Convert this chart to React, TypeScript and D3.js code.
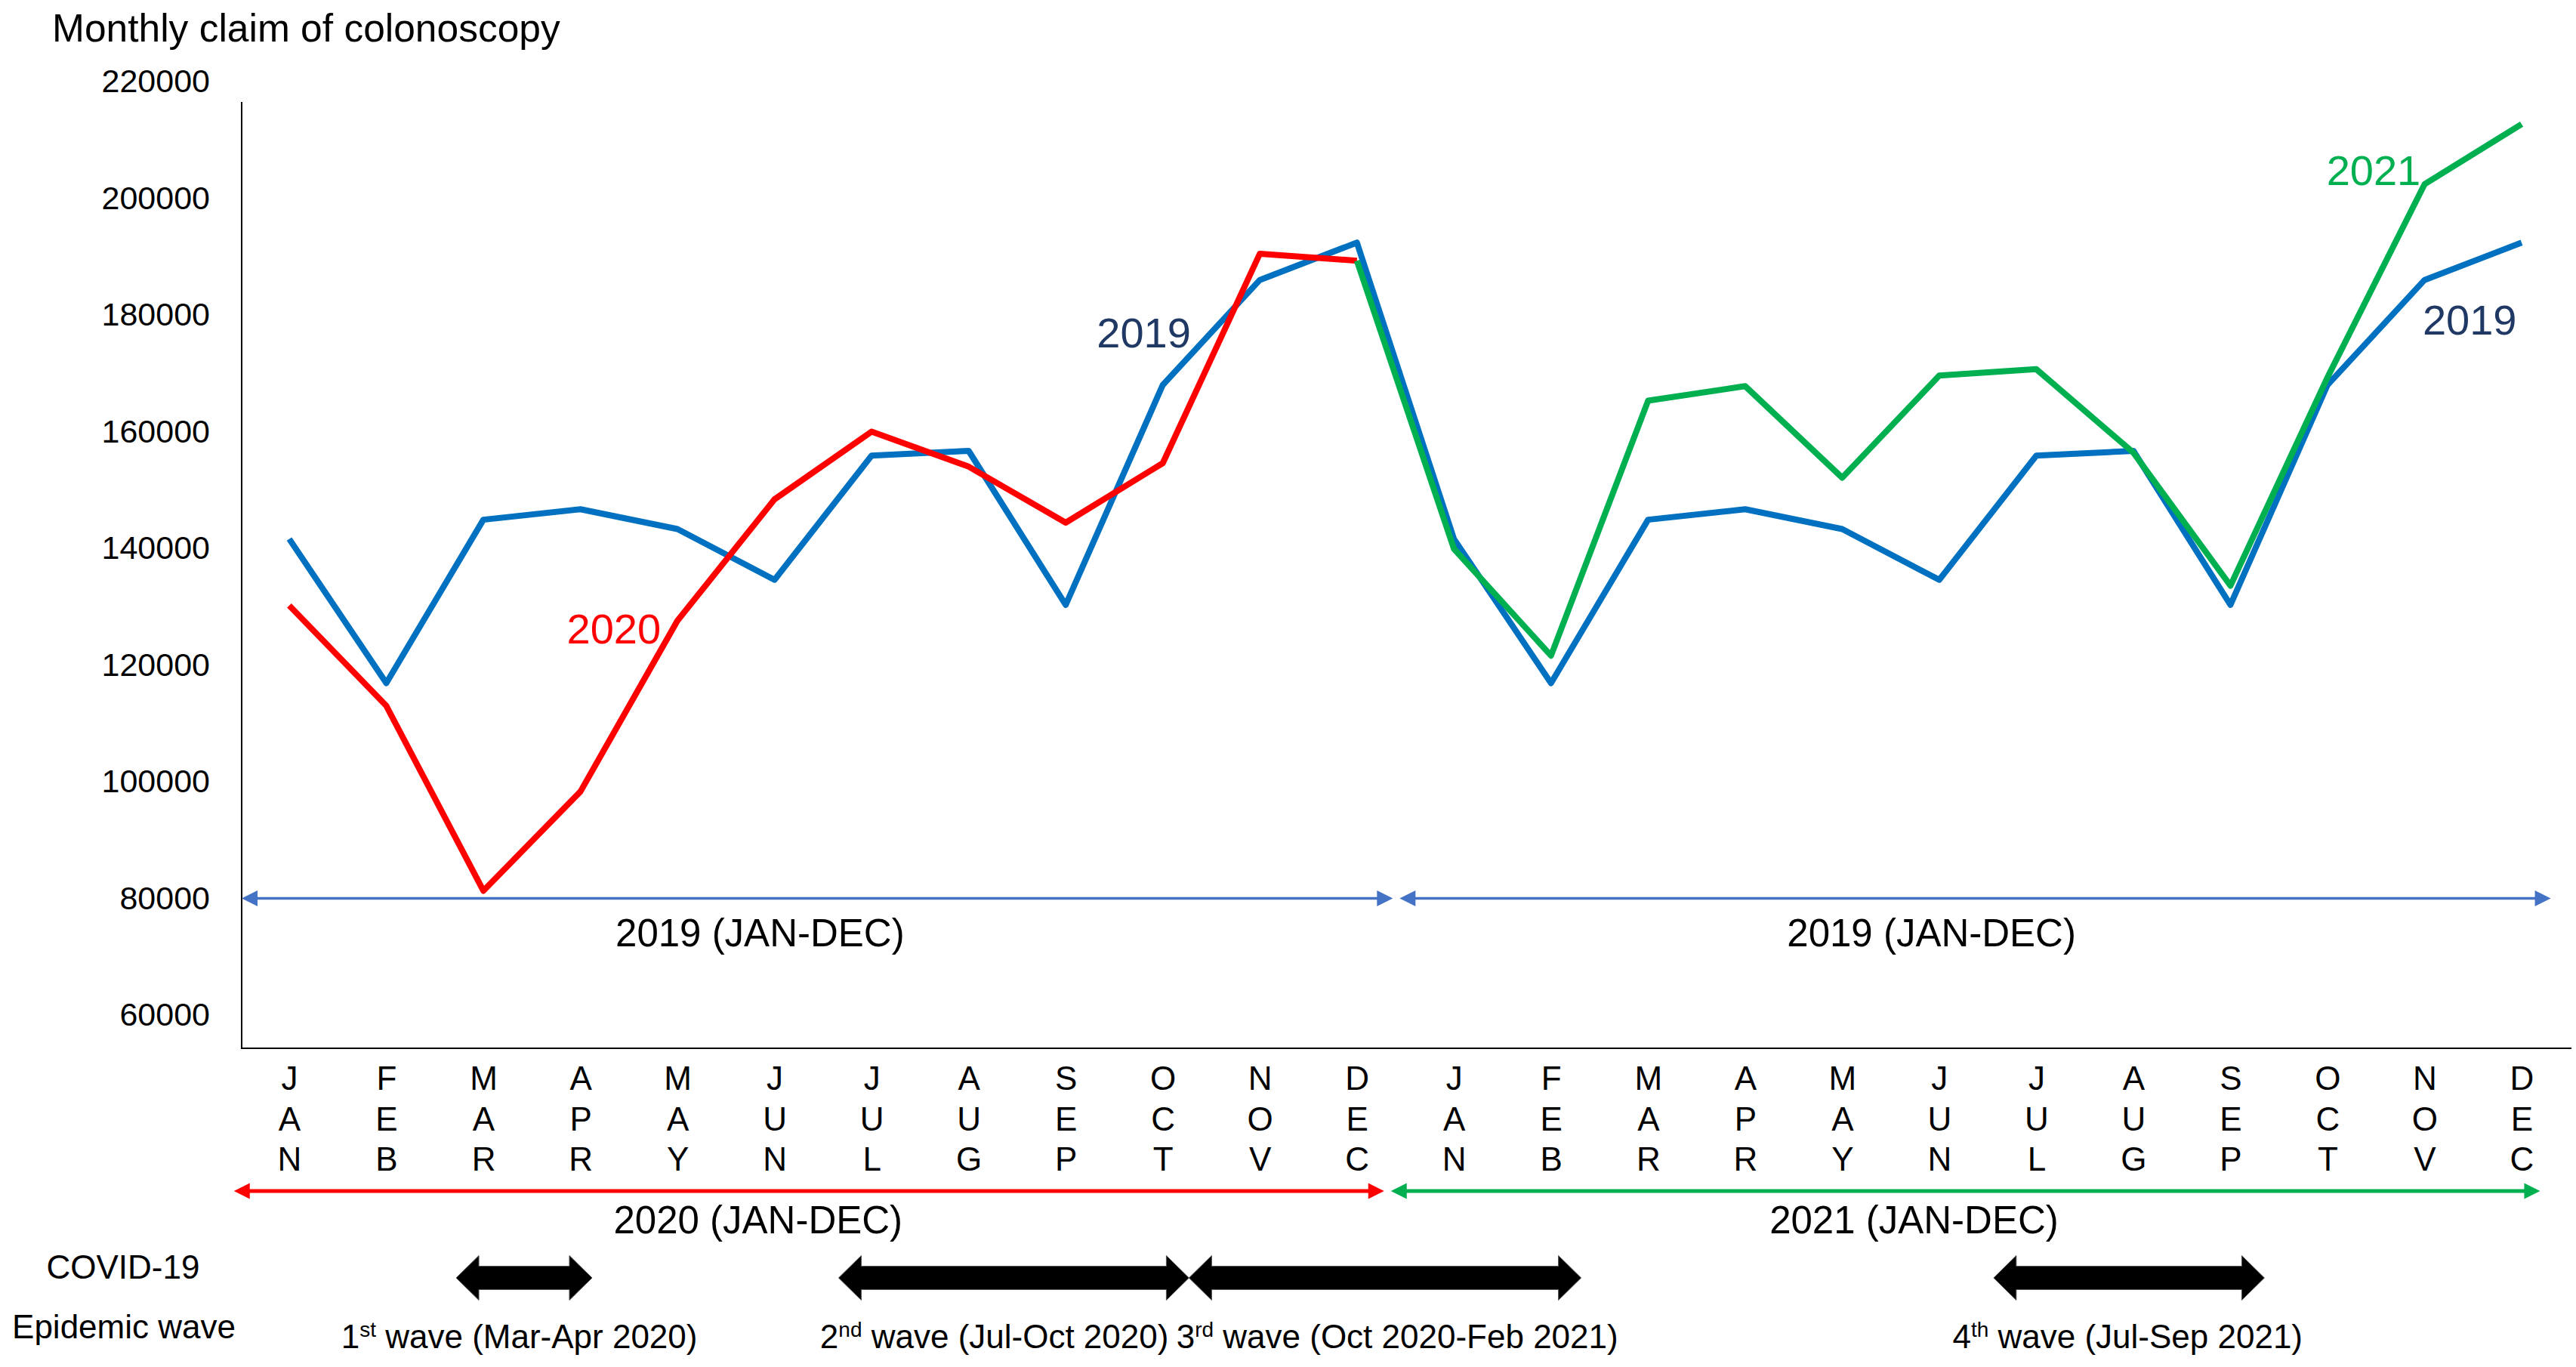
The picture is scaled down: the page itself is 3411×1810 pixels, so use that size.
import React, { useRef, useEffect } from "react";
import * as d3 from "d3";

// month categories (24 months, two years)
const monthNames = ["JAN", "FEB", "MAR", "APR", "MAY", "JUN", "JUL", "AUG", "SEP", "OCT", "NOV", "DEC"];
const months = [...monthNames, ...monthNames];

// monthly claims
const claims2019 = [141600, 116900, 144900, 146700, 143300, 134600, 155900, 156700, 130300, 168000, 186000, 192400];
const claims2020 = [130200, 113000, 81300, 98300, 127600, 148400, 160000, 154000, 144400, 154600, 190500, 189300];
const claims2021 = [139900, 121600, 165300, 167800, 152100, 169600, 170700, 156400, 133600, 169300, 202400, 212700];

const yTicks = [60000, 80000, 100000, 120000, 140000, 160000, 180000, 200000, 220000];

// in-plot series labels (month position, value at baseline)
const seriesLabels = [
  { text: "2019", month: 8.32, value: 174400, color: "#1F3864" },
  { text: "2020", month: 2.86, value: 123700, color: "#FF0000" },
  { text: "2021", month: 20.99, value: 202300, color: "#00B050" },
  { text: "2019", month: 21.98, value: 176600, color: "#1F3864" },
];

// period arrows under the lines / axis
const periodSpans = [
  { label: "2019 (JAN-DEC)", from: -0.49, to: 11.37, labelAt: 4.85, row: "ref", color: "#4472C4" },
  { label: "2019 (JAN-DEC)", from: 11.44, to: 23.3, labelAt: 16.92, row: "ref", color: "#4472C4" },
  { label: "2020 (JAN-DEC)", from: -0.57, to: 11.28, labelAt: 4.83, row: "year", color: "#FF0000" },
  { label: "2021 (JAN-DEC)", from: 11.35, to: 23.19, labelAt: 16.74, row: "year", color: "#00B050" },
];

// COVID-19 epidemic waves
const waves = [
  { num: "1", sup: "st", rest: " wave (Mar-Apr 2020)", from: 1.72, to: 3.12, labelAt: 2.37, anchor: "middle" },
  { num: "2", sup: "nd", rest: " wave (Jul-Oct 2020)", from: 5.66, to: 9.27, labelAt: 9.06, anchor: "end" },
  { num: "3", sup: "rd", rest: " wave (Oct 2020-Feb 2021)", from: 9.27, to: 13.31, labelAt: 9.14, anchor: "start" },
  { num: "4", sup: "th", rest: " wave (Jul-Sep 2021)", from: 17.56, to: 20.35, labelAt: 18.94, anchor: "middle" },
];

const FONT = "'Liberation Sans', Arial, sans-serif";

export default function App() {
  const svgRef = useRef(null);
  const width = 3411;
  const height = 1810;
  const plotLeft = 320;
  const plotRight = 3405;
  const plotTop = 135;
  const plotBottom = 1388;

  useEffect(() => {
    const x = d3.scaleLinear().domain([0, 23]).range([383, 3339]);
    const y = d3.scaleLinear().domain([60000, 220000]).range([1344, 108]);

    const svg = d3.select(svgRef.current);
    svg.selectAll("*").remove();

    // title
    svg.append("text")
      .attr("x", 69)
      .attr("y", 55)
      .attr("font-family", FONT)
      .attr("font-size", 51.5)
      .text("Monthly claim of colonoscopy");

    // y axis labels
    svg.append("g")
      .attr("transform", `translate(${plotLeft},0)`)
      .call(d3.axisLeft(y).tickValues(yTicks).tickSize(0).tickPadding(42).tickFormat(d3.format("d")))
      .call(g => g.select(".domain").remove())
      .call(g => g.selectAll("text").attr("font-family", FONT).attr("font-size", 43).attr("fill", "#000"));

    // x axis month letters, stacked
    svg.append("g")
      .attr("transform", `translate(0,${plotBottom})`)
      .call(d3.axisBottom(x).tickValues(d3.range(24)).tickSize(0).tickFormat(i => months[i]))
      .call(g => g.select(".domain").remove())
      .call(g => g.selectAll(".tick text").each(function (d) {
        const t = d3.select(this);
        t.text(null).attr("dy", null).attr("y", 0)
          .attr("font-family", FONT).attr("font-size", 44).attr("fill", "#000");
        months[d].split("").forEach((ch, k) => {
          t.append("tspan").attr("x", 0).attr("y", 55 + k * 53.5).text(ch);
        });
      }));

    // axis lines
    svg.append("path")
      .attr("d", `M${plotLeft},${plotTop}V${plotBottom}H${plotRight}`)
      .attr("fill", "none")
      .attr("stroke", "#000")
      .attr("stroke-width", 2);

    // period arrows
    const thinArrow = (x1, x2, yy, color, w) => {
      const g = svg.append("g");
      const L = 21, H = 10.5;
      g.append("line")
        .attr("x1", x1 + L - 2).attr("x2", x2 - L + 2)
        .attr("y1", yy).attr("y2", yy)
        .attr("stroke", color).attr("stroke-width", w);
      g.append("path")
        .attr("d", `M${x1},${yy}L${x1 + L},${yy - H}L${x1 + L},${yy + H}Z`)
        .attr("fill", color);
      g.append("path")
        .attr("d", `M${x2},${yy}L${x2 - L},${yy - H}L${x2 - L},${yy + H}Z`)
        .attr("fill", color);
    };

    periodSpans.forEach(p => {
      const yy = p.row === "ref" ? y(80000) : 1577;
      const base = p.row === "ref" ? 1253 : 1633;
      thinArrow(x(p.from), x(p.to), yy, p.color, p.row === "ref" ? 3.5 : 5);
      svg.append("text")
        .attr("x", x(p.labelAt))
        .attr("y", base)
        .attr("text-anchor", "middle")
        .attr("font-family", FONT)
        .attr("font-size", 51)
        .text(p.label);
    });

    // series lines
    const line = d3.line().x(d => x(d.i)).y(d => y(d.v));
    const blue = [...claims2019, ...claims2019].map((v, i) => ({ i, v }));
    const red = claims2020.map((v, i) => ({ i, v }));
    const green = [{ i: 11, v: claims2020[11] }, ...claims2021.map((v, i) => ({ i: i + 12, v }))];

    [[blue, "#0070C0"], [red, "#FF0000"], [green, "#00B050"]].forEach(([data, color]) => {
      svg.append("path")
        .datum(data)
        .attr("d", line)
        .attr("fill", "none")
        .attr("stroke", color)
        .attr("stroke-width", 8)
        .attr("stroke-linejoin", "round");
    });

    // series labels
    seriesLabels.forEach(s => {
      svg.append("text")
        .attr("x", x(s.month))
        .attr("y", y(s.value))
        .attr("font-family", FONT)
        .attr("font-size", 56)
        .attr("fill", s.color)
        .text(s.text);
    });

    // COVID-19 waves
    svg.append("text")
      .attr("x", 163).attr("y", 1693)
      .attr("text-anchor", "middle")
      .attr("font-family", FONT).attr("font-size", 44)
      .text("COVID-19");
    svg.append("text")
      .attr("x", 164).attr("y", 1772)
      .attr("text-anchor", "middle")
      .attr("font-family", FONT).attr("font-size", 44)
      .text("Epidemic wave");

    const cy = 1692;
    const h = 15.5, H = 29.5, L = 30;
    waves.forEach(w => {
      const x1 = x(w.from), x2 = x(w.to);
      svg.append("path")
        .attr("d", `M${x1},${cy}L${x1 + L},${cy - H}L${x1 + L},${cy - h}L${x2 - L},${cy - h}L${x2 - L},${cy - H}L${x2},${cy}L${x2 - L},${cy + H}L${x2 - L},${cy + h}L${x1 + L},${cy + h}L${x1 + L},${cy + H}Z`)
        .attr("fill", "#000")
        .attr("stroke", "#555")
        .attr("stroke-width", 1);

      const t = svg.append("text")
        .attr("x", x(w.labelAt)).attr("y", 1785)
        .attr("text-anchor", w.anchor)
        .attr("font-family", FONT).attr("font-size", 44);
      t.append("tspan").text(w.num);
      t.append("tspan").attr("font-size", 28).attr("dy", -15).text(w.sup);
      t.append("tspan").attr("dy", 15).text(w.rest);
    });
  }, []);

  return (
    <svg
      ref={svgRef}
      width={width}
      height={height}
      style={{ position: "absolute", left: 0, top: 0, background: "#fff" }}
    ></svg>
  );
}
